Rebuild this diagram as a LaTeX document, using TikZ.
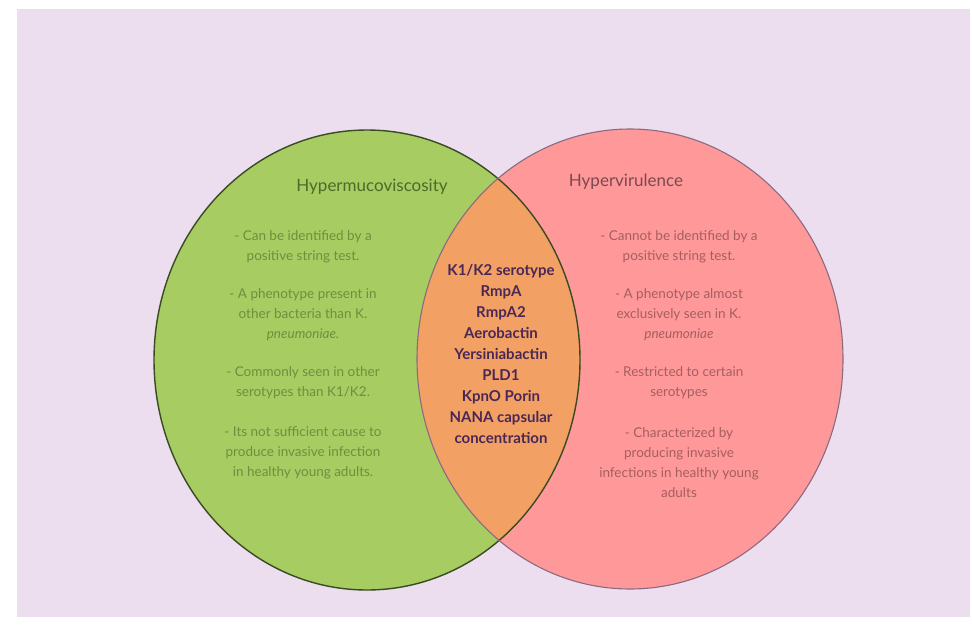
\documentclass[tikz,border=0pt]{standalone}
\usepackage{fontspec}
\setmainfont{Lato}
\usepackage{tikz}

\definecolor{lav}{HTML}{ECDEEE}
\definecolor{hmgreen}{HTML}{A6CC62}
\definecolor{hvred}{HTML}{FF9898}
\definecolor{both}{HTML}{F2A064}
\definecolor{greenline}{HTML}{3A4A22}
\definecolor{redline}{HTML}{8C6A82}
\definecolor{greentext}{HTML}{6E8F3E}
\definecolor{greentitle}{HTML}{4C6A2A}
\definecolor{redtext}{HTML}{A65E60}
\definecolor{redtitle}{HTML}{7A4A50}
\definecolor{midtext}{HTML}{4A2856}

\tikzset{
  title/.style={font=\fontsize{17}{20}\selectfont},
  body/.style={align=center, font=\fontsize{13.5}{20}\selectfont},
  shared/.style={align=center, font=\fontsize{15}{21}\selectfont\bfseries, text=midtext}
}

\begin{document}
\begin{tikzpicture}[x=1pt,y=-1pt]
  \useasboundingbox (0,0) rectangle (972,624);
  \fill[white] (0,0) rectangle (972,624);
  \fill[lav] (17,9) rectangle (970,617);
  %
  \fill[hmgreen] (367,360) ellipse [x radius=213pt, y radius=230pt];
  \fill[hvred] (630,359) ellipse [x radius=213pt, y radius=230pt];
  \begin{scope}
    \clip (367,360) ellipse [x radius=213pt, y radius=230pt];
    \fill[both] (630,359) ellipse [x radius=213pt, y radius=230pt];
  \end{scope}
  \draw[greenline, line width=1.4pt] (367,360) ellipse [x radius=213pt, y radius=230pt];
  \draw[redline, line width=1.1pt] (630,359) ellipse [x radius=213pt, y radius=230pt];
  %
  \node[title, text=greentitle] (hmTitle) at (372,187) {Hypermucoviscosity};
  \node[body, text=greentext] (hmA) at (303,247) {- Can be identified by a\\positive string test.};
  \node[body, text=greentext] (hmB) at (303,315) {- A phenotype present in\\other bacteria than K.\\\textit{pneumoniae.}};
  \node[body, text=greentext] (hmC) at (303,383) {- Commonly seen in other\\serotypes than K1/K2.};
  \node[body, text=greentext] (hmD) at (303,453) {- Its not sufficient cause to\\produce invasive infection\\in healthy young adults.};
  %
  \node[title, text=redtitle] (hvTitle) at (626,182) {Hypervirulence};
  \node[body, text=redtext] (hvA) at (679,247) {- Cannot be identified by a\\positive string test.};
  \node[body, text=redtext] (hvB) at (679,315) {- A phenotype almost\\exclusively seen in K.\\\textit{pneumoniae}};
  \node[body, text=redtext] (hvC) at (679,383) {- Restricted to certain\\serotypes};
  \node[body, text=redtext] (hvD) at (679,463) {- Characterized by\\producing invasive\\infections in healthy young\\adults};
  %
  \node[shared] (common) at (501,354) {K1/K2 serotype\\RmpA\\RmpA2\\Aerobactin\\Yersiniabactin\\PLD1\\KpnO Porin\\NANA capsular\\concentration};
\end{tikzpicture}
\end{document}
